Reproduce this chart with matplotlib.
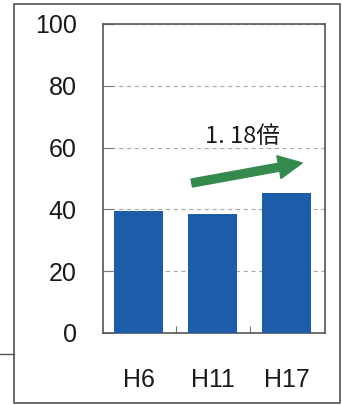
import matplotlib.pyplot as plt
from matplotlib.patches import Rectangle
from matplotlib.lines import Line2D

# 値（H6, H11, H17）
years = ['H6', 'H11', 'H17']
values = [39.3, 38.4, 45.3]
y_ticks = [0, 20, 40, 60, 80, 100]
ratio_label = '1. 18倍'

fig = plt.figure(figsize=(3.43, 4.05), dpi=100)
fig.patch.set_facecolor('white')

ax = fig.add_axes([0.300, 0.178, 0.648, 0.763])
x = range(len(years))
ax.bar(x, values, width=0.66, color='#1d5cab', zorder=3)

ax.set_xlim(-0.48, 2.52)
ax.set_ylim(0, 100)
ax.set_yticks(y_ticks)
ax.set_yticklabels([str(v) for v in y_ticks], fontsize=18, family='Liberation Sans', color='#1a1a1a')
ax.set_xticks(list(x))
ax.set_xticklabels(years, fontsize=18, family='Liberation Sans', color='#1a1a1a')
ax.set_xticks([0.5, 1.5], minor=True)

ax.tick_params(axis='y', direction='in', length=7, width=0.8, color='#777777', pad=19)
ax.tick_params(axis='x', which='major', length=0, pad=25)
ax.tick_params(axis='x', which='minor', direction='in', length=5, width=0.8, color='#777777')

ax.yaxis.grid(True, linestyle=(0, (4, 3)), color='#aaaaaa', linewidth=0.8, zorder=1)
for s in ax.spines.values():
    s.set_color('#555555')
    s.set_linewidth(1.2)

# 伸び率の矢印
ax.annotate('', xy=(2.21, 55.0), xytext=(0.72, 48.5),
            arrowprops=dict(arrowstyle='simple,head_length=1.7,head_width=1.66,tail_width=0.58',
                            mutation_scale=10, color='#338a4c', shrinkA=0, shrinkB=0),
            zorder=4)
ax.text(1.41, 63.4, ratio_label, ha='center', va='center', fontsize=17,
        family=['Noto Sans CJK JP', 'DejaVu Sans'], color='#1a1a1a')

# 外枠
fig.patches.append(Rectangle((0.041, 0.005), 0.950, 0.985, transform=fig.transFigure,
                             fill=False, edgecolor='#444444', linewidth=1.1))
fig.lines.append(Line2D([0, 0.041], [0.126, 0.126], transform=fig.transFigure,
                        color='#555555', linewidth=1.0))

fig.savefig('out.png', dpi=100)
